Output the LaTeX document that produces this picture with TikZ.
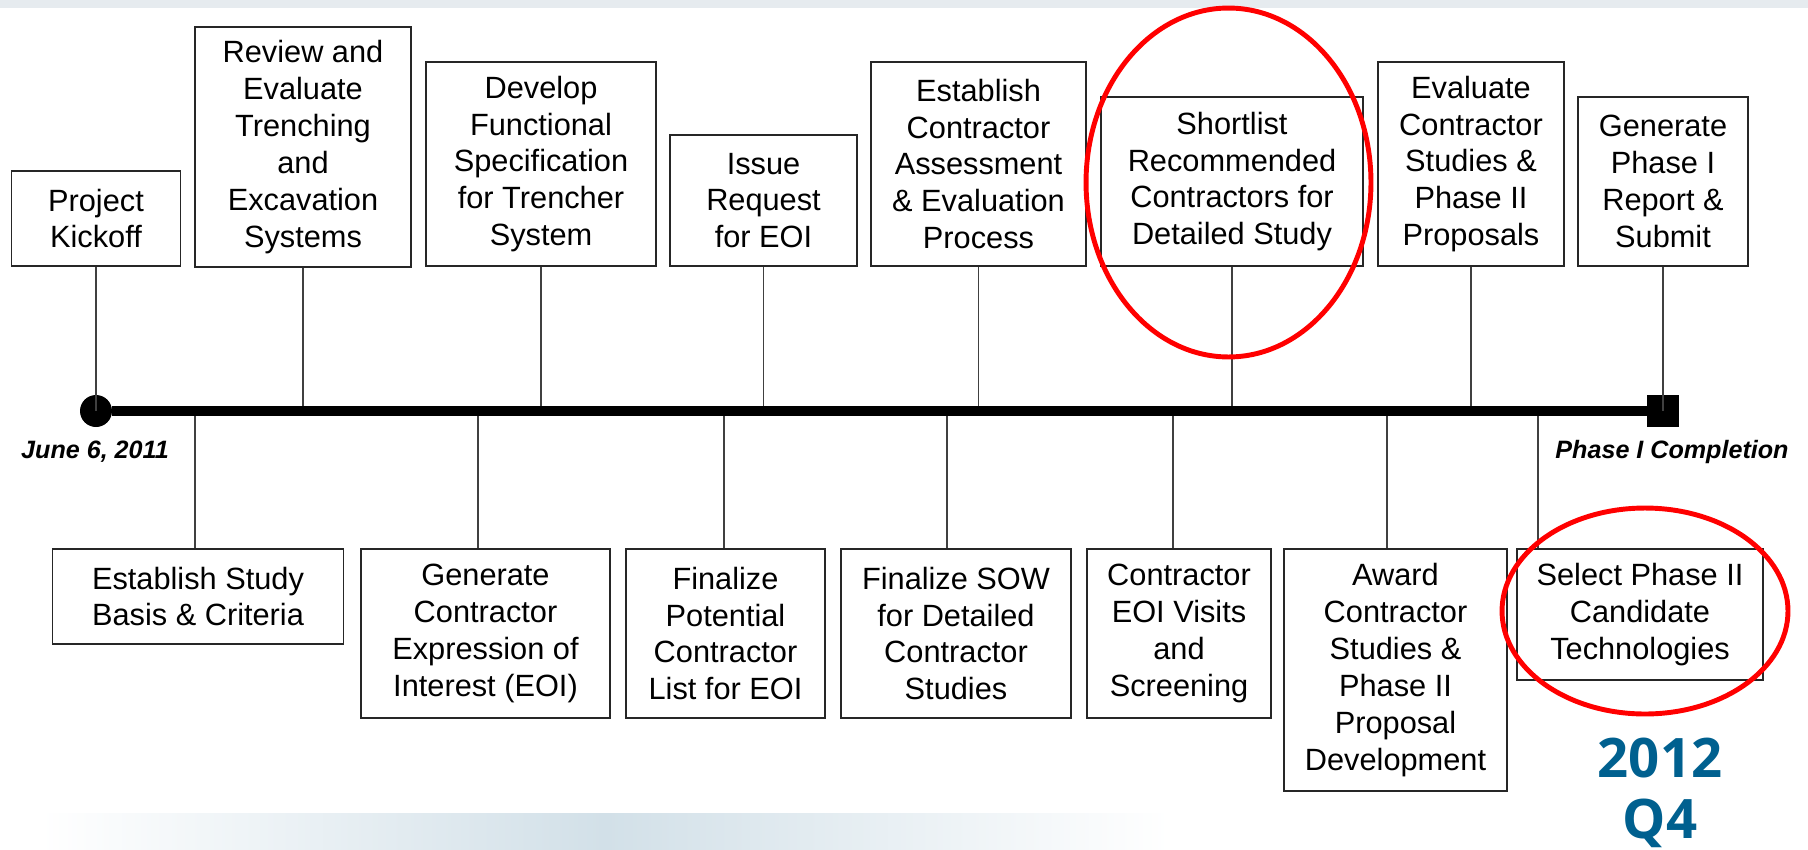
\documentclass[tikz,border=0pt]{standalone}
\usepackage{fontspec}
\setmainfont{Liberation Sans}
\newfontfamily\yearfont{Open Sans}
\definecolor{yearblue}{RGB}{0,96,143}
\definecolor{topgray}{RGB}{230,235,239}
\definecolor{bandblue}{RGB}{210,224,232}
\tikzset{
  stepbox/.style={draw=black!85, line width=1pt, fill=white, align=center, inner sep=2pt, font=\fontsize{17.5}{21}\selectfont},
  stem/.style={draw=black!75, line width=1.1pt},
  datelabel/.style={font=\fontsize{14.3}{16}\selectfont\bfseries\itshape}
}
\begin{document}
\begin{tikzpicture}[x=0.02cm, y=-0.02cm]
            \useasboundingbox (0,0) rectangle (1808,849);
            \fill[topgray] (0,0) rectangle (1808,8);
            \shade[left color=white, right color=white, middle color=bandblue] (40,813) rectangle (1170,849);

            \node[stepbox, minimum width=3.38cm, minimum height=1.90cm] (top1) at (96,218.5) {Project\\Kickoff};
            \node[stepbox, minimum width=4.32cm, minimum height=4.80cm] (top2) at (303,147) {Review and\\Evaluate\\Trenching\\and\\Excavation\\Systems};
            \node[stepbox, minimum width=4.60cm, minimum height=4.08cm] (top3) at (541,164) {Develop\\Functional\\Specification\\for Trencher\\System};
            \node[stepbox, minimum width=3.74cm, minimum height=2.62cm] (top4) at (763.5,200.5) {Issue\\Request\\for EOI};
            \node[stepbox, minimum width=4.30cm, minimum height=4.08cm] (top5) at (978.5,164) {Establish\\Contractor\\Assessment\\\& Evaluation\\Process};
            \node[stepbox, minimum width=5.24cm, minimum height=3.38cm] (top6) at (1232,181.5) {Shortlist\\Recommended\\Contractors for\\Detailed Study};
            \node[stepbox, minimum width=3.72cm, minimum height=4.08cm] (top7) at (1471,164) {Evaluate\\Contractor\\Studies \&\\Phase II\\Proposals};
            \node[stepbox, minimum width=3.40cm, minimum height=3.38cm] (top8) at (1663,181.5) {Generate\\Phase I\\Report \&\\Submit};

            \node[stepbox, minimum width=5.82cm, minimum height=1.90cm] (bot1) at (198,596.5) {Establish Study\\Basis \& Criteria};
            \node[stepbox, minimum width=4.98cm, minimum height=3.38cm] (bot2) at (485.5,633.5) {Generate\\Contractor\\Expression of\\Interest (EOI)};
            \node[stepbox, minimum width=3.98cm, minimum height=3.38cm] (bot3) at (725.5,633.5) {Finalize\\Potential\\Contractor\\List for EOI};
            \node[stepbox, minimum width=4.60cm, minimum height=3.38cm] (bot4) at (956,633.5) {Finalize SOW\\for Detailed\\Contractor\\Studies};
            \node[stepbox, minimum width=3.68cm, minimum height=3.38cm] (bot5) at (1179,633.5) {Contractor\\EOI Visits\\and\\Screening};
            \node[stepbox, minimum width=4.46cm, minimum height=4.84cm] (bot6) at (1395.5,670) {Award\\Contractor\\Studies \&\\Phase II\\Proposal\\Development};
            \node[stepbox, minimum width=4.92cm, minimum height=2.62cm] (bot7) at (1640,614.5) {Select Phase II\\Candidate\\Technologies};

            \node[circle, fill=black, inner sep=0pt, minimum size=0.64cm] (start) at (96,411) {};
            \node[rectangle, fill=black, inner sep=0pt, minimum size=0.64cm] (finish) at (1663,411) {};
            \node[datelabel] (begin) at (95,452) {June 6, 2011};
            \node[datelabel] (phase) at (1672,452) {Phase I Completion};
            \node[font=\yearfont\bfseries\fontsize{31}{35}\selectfont, text=yearblue, align=center] (year) at (1660,793) {2012\\Q4};

            %Archi

            \foreach \n in {1,...,8} \draw[stem] (top\n.south) -- (top\n.south |- start);
            \foreach \n/\x in {1/195,2/478,3/724,4/947,5/1173,6/1387,7/1538} {
              \coordinate (m\n) at (\x,411);
              \draw[stem] (m\n) -- (m\n |- bot\n.north);
            }
            \draw[line width=6pt] (start) -- (finish);

            \draw[red, line width=2.8pt] (1228.5,182.5) ellipse [x radius=2.85cm, y radius=3.49cm];
            \draw[red, line width=2.8pt] (1645,611) ellipse [x radius=2.86cm, y radius=2.06cm];
\end{tikzpicture}
\end{document}
